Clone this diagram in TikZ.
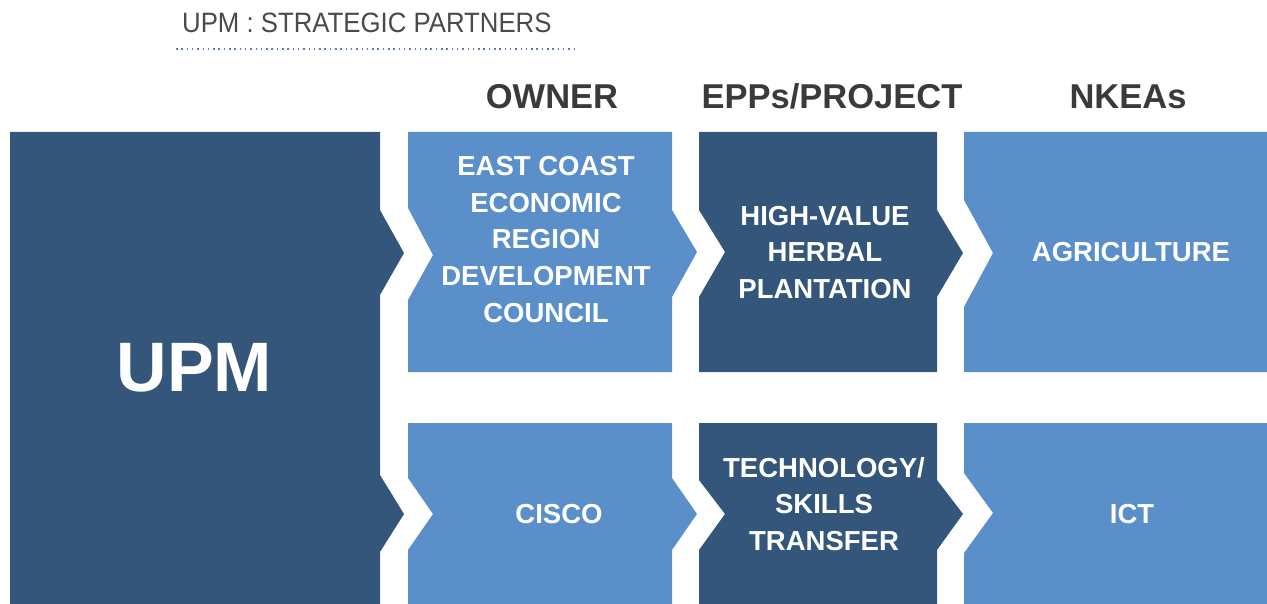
\documentclass[tikz,border=0pt]{standalone}
\usepackage{fontspec}
\setmainfont{Liberation Sans}
\newfontfamily\titlefont[FakeStretch=0.92]{Liberation Sans}
\definecolor{darkblue}{HTML}{34567B}
\definecolor{lightblue}{HTML}{5B8FCA}
\definecolor{headgray}{HTML}{3A3A3A}
\definecolor{titlegray}{HTML}{4A4A4A}
\definecolor{dotblue}{HTML}{5A80AA}
\begin{document}
\begin{tikzpicture}[x=1pt,y=-1pt,
  head/.style={font=\fontsize{34.5}{40}\selectfont\bfseries, text=headgray, inner sep=0pt},
  body/.style={font=\fontsize{27.5}{36.75}\selectfont\bfseries, text=white, align=center, inner sep=0pt},
  darkfill/.style={fill=darkblue},
  lightfill/.style={fill=lightblue}]
\useasboundingbox (0,0) rectangle (1267,604);
% title
\node[anchor=base west, inner sep=0pt, font=\titlefont\fontsize{28}{32}\selectfont, text=titlegray] (title) at (182,32.5) {UPM : STRATEGIC PARTNERS};
\draw[dotblue, line width=1.5pt, dash pattern=on 1.5pt off 3.8pt] (176,49) -- (575,49);
% headers
\node[head] (hown) at (552,96.5) {OWNER};
\node[head] (hepp) at (832,96.5) {EPPs/PROJECT};
\node[head] (hnk) at (1128,96.5) {NKEAs};
% UPM block
\fill[darkfill] (10,132) -- (380,132) -- (380,210) -- (404,253) -- (380,295) -- (380,475) -- (404,514) -- (380,552) -- (380,604) -- (10,604) -- cycle;
% top row
\fill[lightfill] (408,132) -- (672,132) -- (672,210) -- (697,252) -- (672,297) -- (672,372) -- (408,372) -- (408,300) -- (433,255) -- (408,208) -- cycle;
\fill[darkfill] (699,132) -- (937,132) -- (937,210) -- (963,253) -- (937,297) -- (937,372) -- (699,372) -- (699,297) -- (725,252) -- (699,210) -- cycle;
\fill[lightfill] (964,132) -- (1267,132) -- (1267,372) -- (964,372) -- (964,307) -- (993,253) -- (964,200) -- cycle;
% bottom row
\fill[lightfill] (408,423) -- (672,423) -- (672,478) -- (697,514) -- (672,550) -- (672,604) -- (408,604) -- (408,550) -- (433,514) -- (408,478) -- cycle;
\fill[darkfill] (699,423) -- (937,423) -- (937,480) -- (963,514) -- (937,550) -- (937,604) -- (699,604) -- (699,550) -- (725,514) -- (699,480) -- cycle;
\fill[lightfill] (964,423) -- (1267,423) -- (1267,604) -- (964,604) -- (964,553) -- (993,513) -- (964,473) -- cycle;
% texts
\node[font=\fontsize{70}{80}\selectfont\bfseries, text=white, inner sep=0pt] (upm) at (194.5,368) {UPM};
\node[body] (ecer) at (546,239.5) {EAST COAST\\ECONOMIC\\REGION\\DEVELOPMENT\\COUNCIL};
\node[body] (herb) at (825,252.5) {HIGH-VALUE\\HERBAL\\PLANTATION};
\node[body] (agri) at (1131,252) {AGRICULTURE};
\node[body] (cisco) at (559,514) {CISCO};
\node[body] (tech) at (824,504) {TECHNOLOGY/\\SKILLS\\TRANSFER};
\node[body] (ict) at (1132,514) {ICT};
\end{tikzpicture}
\end{document}
